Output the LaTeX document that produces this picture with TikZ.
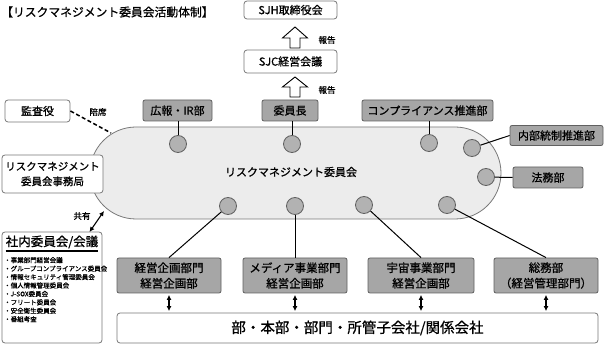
\documentclass[tikz,border=0pt]{standalone}
\usepackage{fontspec}
\setmainfont{Noto Sans CJK JP}[FakeBold=0.8]
\usetikzlibrary{arrows.meta,calc}
\definecolor{bgray}{RGB}{166,166,166}
\definecolor{bdgray}{RGB}{96,96,96}
\definecolor{cgray}{RGB}{178,178,178}
\definecolor{stfill}{RGB}{236,236,236}
\definecolor{stdraw}{RGB}{120,120,120}
\begin{document}
\begin{tikzpicture}[x=1pt,y=-1pt,
  graybox/.style={draw=bdgray,fill=bgray,rounded corners=2pt,inner sep=0pt,line width=0.8pt,font=\fontsize{11}{13}\selectfont,align=center},
  whitebox/.style={draw=stdraw,fill=white,rounded corners=3pt,inner sep=0pt,line width=0.8pt,font=\fontsize{11}{13}\selectfont,align=center},
  dot/.style={circle,draw=bdgray,fill=cgray,line width=0.8pt,minimum size=17pt,inner sep=0pt},
  link/.style={line width=1pt,black},
  dbl/.style={line width=1.1pt,{Latex[length=5pt,width=5pt]}-{Latex[length=5pt,width=5pt]}},
  lbl/.style={font=\fontsize{8.5}{9}\selectfont,inner sep=0pt},
  hollow/.style={draw=black,fill=white,line width=0.9pt,line join=miter}
]
\useasboundingbox (0,0) rectangle (610,344);

% title
\node[anchor=west,inner sep=0pt,font=\fontsize{11.8}{13}\selectfont] (title) at (1,12) {【リスクマネジメント委員会活動体制】};

% stadium
\node[draw=stdraw,fill=stfill,line width=0.8pt,rounded corners=46pt,minimum width=411pt,minimum height=92pt,inner sep=0pt] (rm) at (295.5,173) {};
\node[inner sep=0pt,font=\fontsize{11}{13}\selectfont] (rmtext) at (291,172) {リスクマネジメント委員会};

% top boxes
\node[whitebox,minimum width=93pt,minimum height=18pt] (sjh) at (290.5,10) {SJH取締役会};
\node[whitebox,minimum width=93pt,minimum height=23pt] (sjc) at (290.5,61.5) {SJC経営会議};

% hollow arrows
\coordinate (a1) at (295,48);
\coordinate (a2) at (295,97);
\draw[hollow] ($(a1)+(-5,0)$) -- ++(0,-10) -- ++(-7.5,0) -- ++(12.5,-11) -- ++(12.5,11) -- ++(-7.5,0) -- ++(0,10) -- cycle;
\draw[hollow] ($(a2)+(-5,0)$) -- ++(0,-10) -- ++(-7.5,0) -- ++(12.5,-10) -- ++(12.5,10) -- ++(-7.5,0) -- ++(0,10) -- cycle;
\node[lbl] (rep1) at (327,40) {報告};
\node[lbl] (rep2) at (327,90) {報告};

\node[graybox,minimum width=69pt,minimum height=21pt] (kouhou) at (177.5,110.5) {広報・IR部};
\node[graybox,minimum width=56pt,minimum height=21pt] (iin) at (290,110.5) {委員長};
\node[graybox,minimum width=131pt,minimum height=21pt] (comp) at (427.5,110.5) {コンプライアンス推進部};
\node[graybox,minimum width=93pt,minimum height=20pt] (naibu) at (556.5,135.5) {内部統制推進部};
\node[graybox,minimum width=70pt,minimum height=21pt] (houmu) at (548,177.5) {法務部};

% circles
\node[dot] (c1) at (178,144) {};
\node[dot] (c2) at (292,144) {};
\node[dot] (c3) at (429,143) {};
\node[dot] (c4) at (472,148) {};
\node[dot] (c5) at (486,177) {};
\node[dot] (c6) at (228,206) {};
\node[dot] (c7) at (295,206) {};
\node[dot] (c8) at (364,205) {};
\node[dot] (c9) at (447,205) {};

% bottom boxes
\node[graybox,minimum width=104pt,minimum height=35pt,font=\fontsize{11.5}{15.5}\selectfont] (b1) at (169,275.5) {経営企画部門\\経営企画部};
\node[graybox,minimum width=104pt,minimum height=35pt,font=\fontsize{11.5}{15.5}\selectfont] (b2) at (295,275.5) {メディア事業部門\\経営企画部};
\node[graybox,minimum width=106pt,minimum height=35pt,font=\fontsize{11.5}{15.5}\selectfont] (b3) at (421,275.5) {宇宙事業部門\\経営企画部};
\node[graybox,minimum width=104pt,minimum height=35pt,font=\fontsize{11.5}{15.5}\selectfont] (b4) at (546,275.5) {総務部\\（経営管理部門）};
\node[whitebox,minimum width=481pt,minimum height=30pt,font=\fontsize{14.5}{16}\selectfont] (wide) at (357.5,328) {部・本部・部門・所管子会社/関係会社};

% left boxes
\node[whitebox,minimum width=65pt,minimum height=22pt] (kansa) at (37.5,111) {監査役};
\node[whitebox,minimum width=101pt,minimum height=38pt,font=\fontsize{10.5}{15}\selectfont] (jimu) at (52.5,174) {リスクマネジメント\\委員会事務局};
\node[whitebox,minimum width=100pt,minimum height=111pt] (shanai) at (52,287.5) {};
\node[inner sep=0pt,font=\fontsize{12.5}{14}\selectfont] (shtitle) at (52,242) {社内委員会/会議};
\draw[line width=1.2pt] ($(shtitle.south west)+(0,2.5)$) -- ($(shtitle.south east)+(0,2.5)$);
\node[anchor=north west,inner sep=0pt,align=left,font=\fontsize{6.5}{8.43}\selectfont] (items) at (4,257) {・事業部門経営会議\\・グループコンプライアンス委員会\\・情報セキュリティ管理委員会\\・個人情報管理委員会\\・J-SOX委員会\\・フリート委員会\\・安全衛生委員会\\・番組考査};

\node[lbl] (baiseki) at (98,112) {陪席};
\node[lbl] (kyouyu) at (82,216) {共有};

% connectors
\draw[link] (c1) -- (c1 |- kouhou.south);
\draw[link] (c2) -- (c2 |- iin.south);
\draw[link] (c3) -- (c3 |- comp.south);
\draw[link] (c4) -- (naibu.west);
\draw[link] (c5) -- (houmu.west);
\draw[link] (c6) -- (b1.north);
\draw[link] (c7) -- (c7 |- b2.north);
\draw[link] (c8) -- (b3.north);
\draw[link] (c9) -- (b4.north);

\coordinate (dashend) at (111,133);
\draw[line width=1.5pt,dash pattern=on 4pt off 2.5pt] (kansa.east) -- (dashend);
\coordinate (kystart) at (89.5,232);
\coordinate (kyend) at (104,211);
\draw[dbl] (kystart) -- (kyend);

\foreach \b in {b1,b2,b3,b4}{
  \draw[dbl] ([yshift=-1.5pt]\b.south) -- ([yshift=1.5pt]\b.south |- wide.north);
}
\end{tikzpicture}
\end{document}
